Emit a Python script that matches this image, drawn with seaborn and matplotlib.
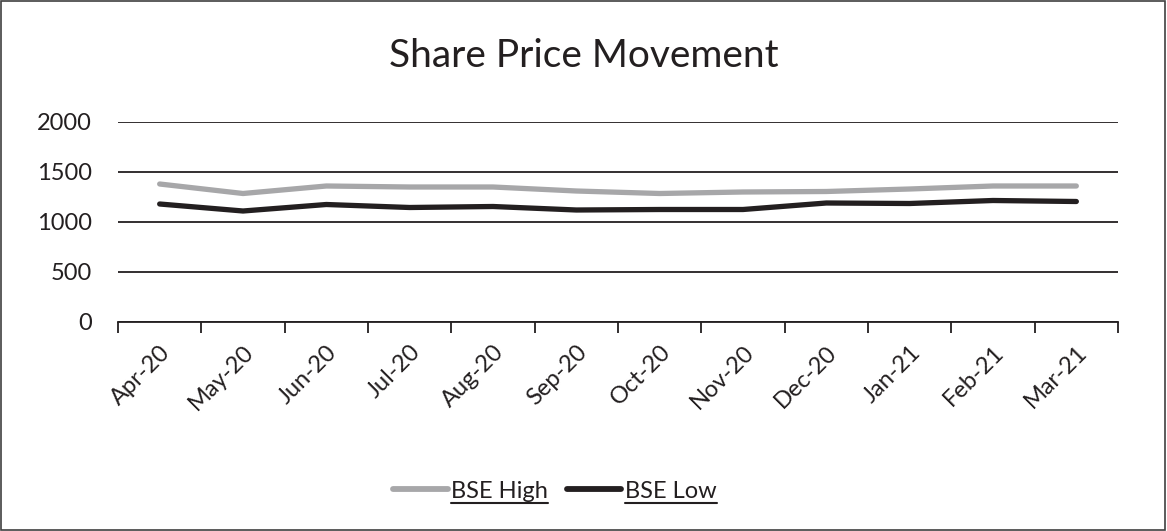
import matplotlib
matplotlib.use("Agg")
import matplotlib.pyplot as plt
import seaborn as sns
import pandas as pd
import numpy as np
from matplotlib.lines import Line2D
from matplotlib.patches import Rectangle

months = ["Apr-20", "May-20", "Jun-20", "Jul-20", "Aug-20", "Sep-20",
          "Oct-20", "Nov-20", "Dec-20", "Jan-21", "Feb-21", "Mar-21"]
bse_high = [1380, 1285, 1360, 1350, 1350, 1310, 1285, 1300, 1305, 1330, 1360, 1360]
bse_low = [1180, 1110, 1175, 1145, 1155, 1120, 1125, 1125, 1190, 1185, 1215, 1205]

df = pd.DataFrame({
    "month": months * 2,
    "value": bse_high + bse_low,
    "series": ["BSE High"] * len(months) + ["BSE Low"] * len(months),
})

sns.set_style("white")
plt.rcParams["font.family"] = ["Lato", "DejaVu Sans"]

fig = plt.figure(figsize=(11.67, 5.31), dpi=100)
ax = fig.add_axes([118 / 1167, 1 - 322 / 531, 1000 / 1167, 200 / 531])

colors = {"BSE High": "#A7A7A9", "BSE Low": "#231F20"}
sns.lineplot(data=df, x="month", y="value", hue="series", palette=colors,
             linewidth=3.8, sort=False, ax=ax, legend=False,
             solid_capstyle="round", solid_joinstyle="round")

ax.set_xlim(-0.5, len(months) - 0.5)
ax.set_ylim(0, 2000)
ax.set_yticks([0, 500, 1000, 1500, 2000])
ax.yaxis.grid(True, color="#231F20", linewidth=1.3)
ax.set_axisbelow(True)
for s in ["top", "right", "left"]:
    ax.spines[s].set_visible(False)
ax.spines["bottom"].set_color("#231F20")
ax.spines["bottom"].set_linewidth(1.3)

ax.set_xticks(range(len(months)))
ax.set_xticklabels(months, rotation=45, ha="right", rotation_mode="anchor")
ax.set_xticks(np.arange(-0.5, len(months), 1), minor=True)
ax.tick_params(axis="x", which="both", bottom=True)
ax.tick_params(axis="x", which="major", length=0, pad=14, labelsize=17, colors="#231F20")
ax.tick_params(axis="x", which="minor", length=8, width=1.3, color="#231F20", direction="out")
ax.tick_params(axis="y", length=0, pad=19, labelsize=17, colors="#231F20")
ax.set_xlabel("")
ax.set_ylabel("")

fig.text(0.5, 1 - 56 / 531, "Share Price Movement", ha="center", va="center",
         fontsize=28, color="#231F20")

handles = [Line2D([0], [0], color=colors["BSE High"], lw=4.2, solid_capstyle="round"),
           Line2D([0], [0], color=colors["BSE Low"], lw=4.2, solid_capstyle="round")]
leg = fig.legend(handles, ["BSE High", "BSE Low"], loc="center",
                 bbox_to_anchor=(555 / 1167, 1 - 491 / 531), ncol=2, frameon=False,
                 fontsize=17, handlelength=2.3, handletextpad=0.15, columnspacing=0.8)
for t in leg.get_texts():
    t.set_color("#231F20")

fig.canvas.draw()
renderer = fig.canvas.get_renderer()
inv = fig.transFigure.inverted()
for t in leg.get_texts():
    bb = t.get_window_extent(renderer)
    (x0, y0), (x1, y1) = inv.transform([(bb.x0, bb.y0), (bb.x1, bb.y0)])
    fig.add_artist(Line2D([x0, x1], [y0 - 0.002, y0 - 0.002], color="#231F20",
                          lw=1.5, transform=fig.transFigure))

fig.add_artist(Rectangle((0.001, 0.002), 0.997, 0.996, transform=fig.transFigure,
                         fill=False, edgecolor="#404040", linewidth=1.2))

fig.savefig("out.png", dpi=100)
